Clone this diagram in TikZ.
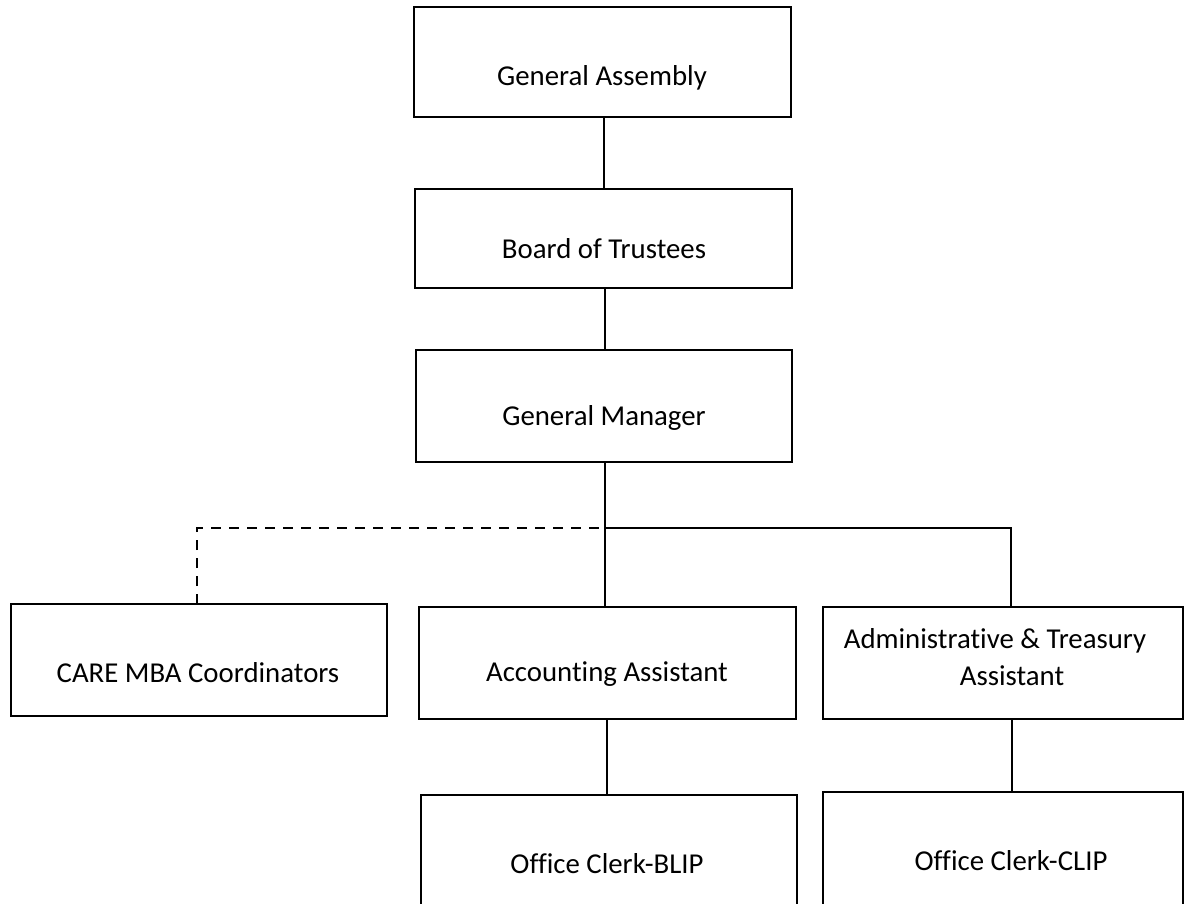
\documentclass[tikz,border=0pt]{standalone}
\usepackage{fontspec}
\setmainfont[Ligatures=NoCommon]{Carlito}
\begin{document}
\begin{tikzpicture}[x=0.5pt,y=-0.5pt,
  box/.style={draw,line width=1pt,inner sep=0pt,outer sep=0pt,rectangle},
  lbl/.style={inner sep=0pt,font=\fontsize{14.4}{17}\selectfont},
  conn/.style={line width=1pt},
  dconn/.style={line width=1pt,dash pattern=on 5pt off 4pt}]
\useasboundingbox (0,0) rectangle (1186,903);
\clip (0,0) rectangle (1186,903);
\node[box,minimum width=188.5pt,minimum height=55pt] (ga) at (602.5,62) {};
\node[lbl] (gat) at (602,78) {General Assembly};
\node[box,minimum width=188.5pt,minimum height=49.5pt] (bot) at (603.5,238.5) {};
\node[lbl] (bott) at (604,249) {Board of Trustees};
\node[box,minimum width=188pt,minimum height=56pt] (gm) at (604,406) {};
\node[lbl] (gmt) at (604,418) {General Manager};
\node[box,minimum width=188pt,minimum height=56pt] (care) at (199,660) {};
\node[lbl] (caret) at (198,673) {CARE MBA Coordinators};
\node[box,minimum width=188.5pt,minimum height=56pt] (acc) at (607.5,663) {};
\node[lbl] (acct) at (607,674) {Accounting Assistant};
\node[box,minimum width=180pt,minimum height=56pt] (adm) at (1003,663) {};
\node[lbl] (admt1) at (995,641) {Administrative \& Treasury};
\node[lbl] (admt2) at (1012,676) {Assistant};
\node[box,minimum width=188pt,minimum height=60pt] (blip) at (609,855) {};
\node[lbl] (blipt) at (607,864) {Office Clerk-BLIP};
\node[box,minimum width=180pt,minimum height=61.5pt] (clip) at (1003,853.5) {};
\node[lbl] (clipt) at (1011,861) {Office Clerk-CLIP};
\coordinate (j) at (605,528);
\coordinate (jr) at (1011,528);
\coordinate (jl) at (197,528);
\draw[conn] (ga.south -| 604,0) -- (bot.north -| 604,0);
\draw[conn] (bot.south -| 605,0) -- (gm.north -| 605,0);
\draw[conn] (gm.south -| j) -- (j) -- (acc.north -| j);
\draw[conn] (j) -- (jr) -- (adm.north -| jr);
\draw[dconn] (care.north -| jl) -- (jl) -- (j);
\draw[conn] (acc.south -| 607,0) -- (blip.north -| 607,0);
\draw[conn] (adm.south -| 1012,0) -- (clip.north -| 1012,0);
\end{tikzpicture}
\end{document}
